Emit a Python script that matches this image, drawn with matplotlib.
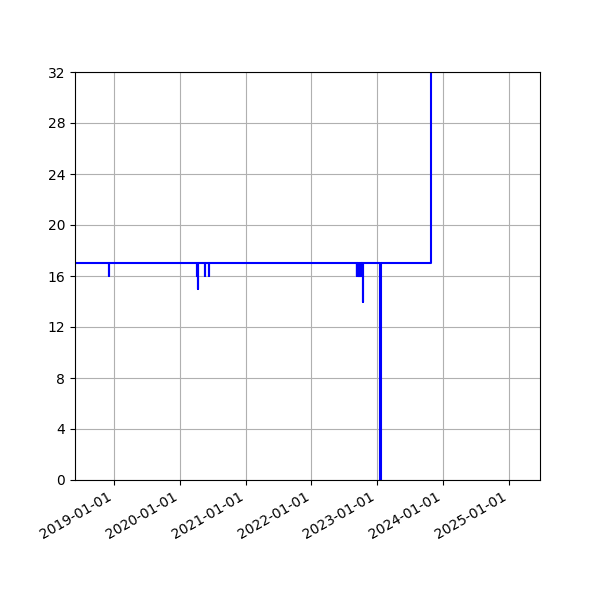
import numpy as np
import pandas as pd
import matplotlib
matplotlib.use("Agg")
import matplotlib.pyplot as plt
import matplotlib.dates as mdates

# change points of the series (value holds until the next date)
change_dates = [
    "2018-05-30", "2018-12-04", "2018-12-05",
    "2020-04-05", "2020-04-06", "2020-04-11", "2020-04-12",
    "2020-05-20", "2020-05-21", "2020-06-11", "2020-06-12",
    "2022-09-10", "2022-09-11", "2022-09-12", "2022-09-13",
    "2022-09-14", "2022-09-15", "2022-09-16", "2022-09-17",
    "2022-09-18", "2022-09-19", "2022-09-20", "2022-09-21",
    "2022-09-22", "2022-09-23", "2022-09-24", "2022-09-25",
    "2022-09-26", "2022-09-27", "2022-09-28", "2022-09-29",
    "2022-09-30", "2022-10-01", "2022-10-02", "2022-10-03",
    "2022-10-04", "2022-10-05", "2022-10-06", "2022-10-07",
    "2022-10-08", "2022-10-09", "2022-10-10", "2022-10-11",
    "2022-10-15", "2022-10-16",
    "2023-01-15", "2023-01-23",
    "2023-10-26",
]
change_values = [
    17, 16, 17,
    16, 17, 15, 17,
    16, 17, 16, 17,
    16, 17, 16, 17,
    16, 17, 16, 17,
    16, 17, 16, 17,
    16, 17, 16, 17,
    16, 17, 16, 17,
    16, 17, 16, 17,
    16, 17, 16, 17,
    16, 17, 16, 17,
    14, 17,
    0, 17,
    64,
]

x_start = "2018-05-30"
x_end = "2025-06-22"
y_ticks = [0, 4, 8, 12, 16, 20, 24, 28, 32]

t = pd.to_datetime(change_dates)

fig, ax = plt.subplots(figsize=(6, 6), dpi=100)
ax.plot(t, change_values, color="blue", drawstyle="steps-post")

ax.set_xlim(pd.Timestamp(x_start), pd.Timestamp(x_end))
ax.set_ylim(0, 32)
ax.set_yticks(y_ticks)
ax.xaxis.set_major_locator(mdates.YearLocator())
ax.xaxis.set_major_formatter(mdates.DateFormatter("%Y-%m-%d"))
ax.grid(True)
fig.autofmt_xdate()

fig.savefig("out.png")
